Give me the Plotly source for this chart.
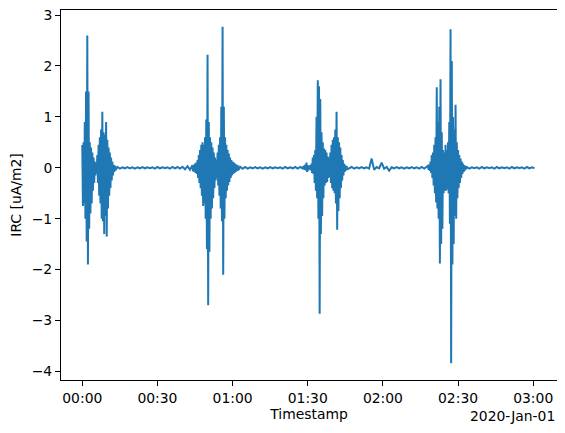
import pandas as pd
import plotly.graph_objects as go


# ═══════════════════════════════════════════════════════════════
# Datos: envolventes (máx / mín), en uA/m2
# ═══════════════════════════════════════════════════════════════

fecha_base = "2020-01-01 00:00:00"

# ráfaga 1 (inicio 0.0 min, paso 0.5 min)
rafaga1_inicio = 0.0
rafaga1_max = [0.45, 0.5, 0.9, 1.5, 2.6, 1.5, 0.5, 0.4, 0.3, 0.2, 0.12, 0.1, 0.25, 0.45,
               0.6, 0.75, 1.1, 0.7, 0.65, 0.9, 0.55, 0.4, 0.3, 0.2, 0.12, 0.06, 0.04]
rafaga1_min = [-0.75, -0.7, -1.0, -1.45, -1.9, -1.2, -0.9, -0.7, -0.45, -0.3, -0.15, -0.1, -0.3, -0.55,
               -0.7, -1.0, -1.05, -1.3, -0.95, -1.35, -0.8, -0.55, -0.4, -0.25, -0.15, -0.08, -0.05]

# tramo tranquilo 1 (inicio 14 min, paso 2 min)
tranquilo1_inicio = 14.0
tranquilo1_max = [0.015, 0.01, 0.015, 0.01, 0.01, 0.015, 0.01, 0.01, 0.015, 0.01, 0.01, 0.015, 0.015, 0.02, 0.03]
tranquilo1_min = [-0.015, -0.01, -0.01, -0.015, -0.01, -0.01, -0.01, -0.015, -0.01, -0.01, -0.015, -0.01, -0.015, -0.03, -0.04]

# ráfaga 2 (inicio 44 min, paso 0.5 min)
rafaga2_inicio = 44.0
rafaga2_max = [0.05, 0.06, 0.08, 0.1, 0.15, 0.25, 0.35, 0.45, 0.5, 0.45, 0.6, 0.95, 2.22, 0.9,
               0.6, 0.5, 0.4, 0.3, 0.2, 0.15, 0.3, 0.45, 0.6, 1.2, 2.77, 1.2, 0.6, 0.45,
               0.35, 0.28, 0.2, 0.15, 0.12, 0.1, 0.08, 0.06, 0.05]
rafaga2_min = [-0.07, -0.08, -0.1, -0.12, -0.2, -0.3, -0.4, -0.55, -0.75, -0.7, -1.0, -1.6, -2.7, -1.65,
               -1.0, -0.8, -0.6, -0.4, -0.25, -0.2, -0.35, -0.55, -0.8, -1.05, -2.1, -1.0, -0.6, -0.45,
               -0.35, -0.28, -0.2, -0.15, -0.12, -0.1, -0.08, -0.06, -0.05]

# tramo tranquilo 2 (inicio 63 min, paso 2 min)
tranquilo2_inicio = 63.0
tranquilo2_max = [0.02, 0.015, 0.01, 0.015, 0.01, 0.01, 0.015, 0.01, 0.01, 0.015, 0.01, 0.015, 0.015]
tranquilo2_min = [-0.02, -0.015, -0.01, -0.01, -0.015, -0.01, -0.01, -0.01, -0.015, -0.01, -0.01, -0.015, -0.015]

# ráfaga 3 (inicio 88 min, paso 0.5 min)
rafaga3_inicio = 88.0
rafaga3_max = [0.03, 0.04, 0.06, 0.1, 0.05, 0.03, 0.05, 0.08, 0.2, 0.25, 0.35, 1.0, 1.72, 1.6,
               1.35, 0.7, 0.5, 0.38, 0.35, 0.3, 0.22, 0.2, 0.3, 0.45, 0.55, 0.6, 0.75, 1.1,
               0.6, 0.5, 0.4, 0.25, 0.15, 0.08, 0.05, 0.03]
rafaga3_min = [-0.03, -0.04, -0.05, -0.08, -0.05, -0.03, -0.05, -0.1, -0.12, -0.3, -0.45, -0.6, -1.0, -2.87,
               -1.3, -0.95, -0.6, -0.35, -0.3, -0.28, -0.2, -0.18, -0.3, -0.4, -0.45, -0.5, -0.7, -1.22,
               -0.85, -0.6, -0.4, -0.25, -0.15, -0.08, -0.05, -0.03]

# tramo tranquilo 3 (inicio 107.5 min, paso 2 min)
tranquilo3_inicio = 107.5
tranquilo3_max = [0.015, 0.01, 0.015, 0.01, 0.18, 0.015, 0.1, 0.015, 0.01, 0.015, 0.01, 0.01, 0.015, 0.01, 0.015]
tranquilo3_min = [-0.015, -0.01, -0.01, -0.015, -0.04, -0.01, -0.02, -0.06, -0.01, -0.01, -0.015, -0.01, -0.01, -0.015, -0.015]

# ráfaga 4 (inicio 138 min, paso 0.5 min)
rafaga4_inicio = 138.0
rafaga4_max = [0.04, 0.06, 0.12, 0.25, 0.3, 0.45, 0.6, 1.58, 0.9, 1.2, 1.74, 0.7, 0.35, 0.3,
               0.45, 0.35, 0.5, 0.9, 2.72, 2.1, 1.0, 0.75, 1.24, 0.5, 0.35, 0.25, 0.18, 0.12,
               0.08, 0.05, 0.03]
rafaga4_min = [-0.04, -0.06, -0.1, -0.2, -0.35, -0.5, -0.68, -0.8, -1.0, -1.88, -1.5, -1.2, -0.5, -0.45,
               -0.45, -0.42, -0.5, -1.1, -3.84, -1.9, -1.5, -0.95, -1.0, -0.6, -0.4, -0.3, -0.2, -0.12,
               -0.08, -0.05, -0.03]

# tramo tranquilo 4 (inicio 153.5 min, paso 2 min)
tranquilo4_inicio = 153.5
tranquilo4_max = [0.015, 0.01, 0.01, 0.015, 0.01, 0.01, 0.015, 0.01, 0.01, 0.015, 0.01, 0.01, 0.015, 0.01]
tranquilo4_min = [-0.015, -0.01, -0.015, -0.01, -0.01, -0.015, -0.01, -0.01, -0.015, -0.01, -0.01, -0.015, -0.01, -0.01]

etiquetas_x = ["00:00", "00:30", "01:00", "01:30", "02:00", "02:30", "03:00"]
ticks_y = [-4, -3, -2, -1, 0, 1, 2, 3]


# ═══════════════════════════════════════════════════════════════
# Serie: se intercalan máximo y mínimo de cada intervalo
# ═══════════════════════════════════════════════════════════════

def _intercalar(inicio, paso, maximos, minimos):

    minutos, valores = [], []
    for i, (alto, bajo) in enumerate(zip(maximos, minimos)):
        t = inicio + i * paso
        minutos += [t, t + paso / 2]
        valores += [alto, bajo]
    return minutos, valores


tramos = [
    (rafaga1_inicio, 0.5, rafaga1_max, rafaga1_min),
    (tranquilo1_inicio, 2.0, tranquilo1_max, tranquilo1_min),
    (rafaga2_inicio, 0.5, rafaga2_max, rafaga2_min),
    (tranquilo2_inicio, 2.0, tranquilo2_max, tranquilo2_min),
    (rafaga3_inicio, 0.5, rafaga3_max, rafaga3_min),
    (tranquilo3_inicio, 2.0, tranquilo3_max, tranquilo3_min),
    (rafaga4_inicio, 0.5, rafaga4_max, rafaga4_min),
    (tranquilo4_inicio, 2.0, tranquilo4_max, tranquilo4_min),
]

minutos, valores = [], []
for tramo in tramos:
    m, v = _intercalar(*tramo)
    minutos += m
    valores += v

base = pd.Timestamp(fecha_base)
df = pd.DataFrame({
    "Timestamp": base + pd.to_timedelta(minutos, unit="min"),
    "IRC": valores,
})

ticks_x = [base + pd.Timedelta(minutes=30 * i) for i in range(len(etiquetas_x))]


# ═══════════════════════════════════════════════════════════════
# Gráfico (la página añade 8 px de margen: la figura se ajusta a eso)
# ═══════════════════════════════════════════════════════════════

fuente = dict(family="DejaVu Sans", size=13.9, color="black")

fig = go.Figure(go.Scatter(
    x=df["Timestamp"], y=df["IRC"], mode="lines",
    line=dict(color="#1f77b4", width=2),
))

fig.update_layout(
    width=557, height=417,
    margin=dict(l=53, r=8, t=2, b=45, autoexpand=False),
    paper_bgcolor="white", plot_bgcolor="white",
    font=fuente, showlegend=False,
)

fig.update_xaxes(
    range=[base - pd.Timedelta(minutes=8.5), base + pd.Timedelta(minutes=189.5)],
    tickmode="array", tickvals=ticks_x, ticktext=etiquetas_x, tickfont=fuente,
    showline=True, linecolor="black", linewidth=1, mirror=True,
    ticks="outside", ticklen=5, tickwidth=1, tickcolor="black",
    showgrid=False, zeroline=False, automargin=False,
    title=dict(text="Timestamp", standoff=4, font=fuente),
)

fig.update_yaxes(
    range=[-4.17, 3.10], tickmode="array", tickvals=ticks_y, tickfont=fuente,
    ticklabeloverflow="allow",
    showline=True, linecolor="black", linewidth=1, mirror=True,
    ticks="outside", ticklen=5, tickwidth=1, tickcolor="black",
    showgrid=False, zeroline=False, automargin=False,
    title=dict(text="IRC [uA/m2]", standoff=8, font=fuente),
)

fig.add_annotation(
    text="2020-Jan-01", xref="paper", yref="paper",
    x=1, y=0, xanchor="right", yanchor="top", yshift=-26,
    showarrow=False, font=fuente,
)

fig.write_html("out.html")
